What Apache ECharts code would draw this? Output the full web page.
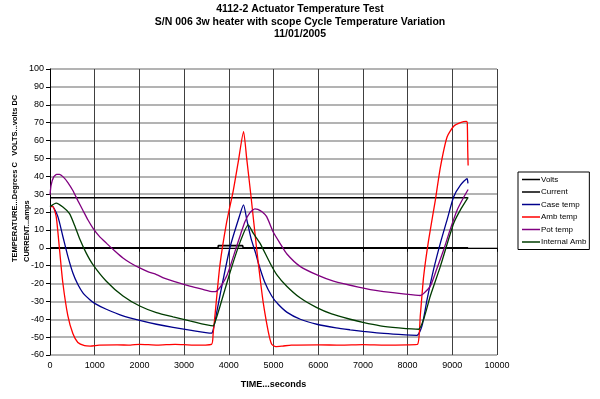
<!DOCTYPE html>
<html>
<head>
<meta charset="utf-8">
<script src="https://cdn.jsdelivr.net/npm/echarts@6/dist/echarts.min.js"></script>
<style>
	html, body { margin: 0; padding: 0; background: #fff; }
	#chart { width: 600px; height: 399px; }
</style>
</head>
<body>
<div id="chart"></div>
<script>
// series data, [seconds, value]
var volts = [[0, 28], [9354, 28]];
var current = [[0, 0], [3760, 0], [3765, 1.2], [4310, 1.2], [4320, 0], [8765, 0], [8770, 1], [8790, 1], [8795, 0], [9245, 0], [9250, 0.8], [9262, 0.8], [9265, 0], [9354, 0]];
var caseTemp = [
	[0, 23], [48, 23.3], [176, 17.4], [288, 6.3], [400, -4.8], [512, -14.1], [624, -20.6], [736, -25.2], [885, -28.9], [998, -31.1],
	[1260, -34.4], [1633, -38.1], [2007, -40.6], [2381, -42.8], [2753, -44.6], [3128, -46.1], [3614, -47.8], [3650, -46], [3700, -40], [3800, -27],
	[4025, 0], [4211, 15.5], [4330, 24], [4400, 16], [4500, 5], [4600, -3], [4660, -8.5], [4800, -19], [4960, -27], [5100, -31.5],
	[5296, -36], [5600, -40], [5969, -42.8], [6400, -44.8], [6715, -45.9], [7000, -46.8], [7388, -47.8], [7800, -48.5], [8210, -49], [8322, -43.7],
	[8435, -29], [8583, -12], [8733, 2.6], [8883, 15.6], [9031, 28.5], [9182, 35], [9330, 38.7], [9350, 36]
];
var ambTemp = [
	[0, 23], [63, 23], [139, 17.4], [213, -1], [287, -19.6], [399, -38], [511, -48], [623, -53], [773, -54.8], [900, -55],
	[1100, -54.5], [1500, -54.3], [1800, -54.5], [2000, -54], [2400, -54.5], [2800, -54], [3200, -54.5], [3614, -54], [3650, -48], [3690, -38],
	[3800, -10], [3950, 14], [4100, 32], [4211, 48], [4330, 65], [4400, 50], [4500, 28], [4620, 0], [4700, -17], [4772, -31],
	[4884, -47], [4960, -54], [5050, -55.3], [5200, -55], [5400, -54.5], [6000, -54.3], [6500, -54.5], [7000, -54.2], [7500, -54.5], [8000, -54.3],
	[8224, -54], [8284, -38], [8359, -16], [8471, 4.4], [8621, 26.7], [8733, 45], [8883, 62], [9031, 68], [9182, 70], [9316, 70.7],
	[9335, 70], [9345, 55], [9354, 46]
];
var potTemp = [
	[0, 29.5], [25, 35], [80, 39.5], [150, 41], [213, 41], [300, 39.5], [400, 36.5], [511, 32], [620, 26.5], [735, 21],
	[850, 15.5], [960, 11], [1100, 6.5], [1260, 2.6], [1450, -1.8], [1632, -5.7], [1800, -8.5], [2007, -11.3], [2200, -13.5], [2381, -15],
	[2553, -17], [2753, -18.7], [3128, -21.5], [3400, -23.2], [3650, -24.6], [3700, -24.6], [3760, -23.5], [3850, -20.5], [3950, -16], [4050, -9],
	[4174, 0.7], [4270, 8], [4361, 14.6], [4470, 19.5], [4585, 21.7], [4650, 21.5], [4750, 20], [4847, 17.4], [5000, 8.5], [5146, 2.5],
	[5300, -3.5], [5594, -10.4], [6000, -15.5], [6341, -18.7], [6900, -22], [7388, -24.3], [7900, -25.8], [8284, -26.7], [8350, -25.8], [8508, -21.5],
	[8650, -12], [8807, -1.1], [8950, 10], [9107, 21], [9250, 28], [9354, 32.6]
];
var internalAmb = [
	[0, 23], [138, 25], [288, 22.8], [437, 19.1], [549, 12.6], [661, 5.2], [811, -3], [960, -9.4], [1260, -18.7], [1633, -27],
	[2007, -32.6], [2381, -36.3], [2753, -38.7], [3128, -40.9], [3650, -43.7], [3700, -41], [3800, -33], [4025, -14], [4250, 3], [4435, 12.8],
	[4550, 8], [4697, 2.6], [4922, -8.5], [5072, -15], [5296, -21.5], [5594, -28], [5969, -33.5], [6300, -37], [6715, -40], [7000, -41.8],
	[7388, -43.7], [7800, -44.8], [8247, -45.6], [8359, -40], [8508, -27], [8733, -10.4], [9031, 13.7], [9200, 22], [9354, 28.2]
];

var seriesNames = ['Volts', 'Current', 'Case temp', 'Amb temp', 'Pot temp', 'Internal Amb'];
var seriesData = [volts, current, caseTemp, ambTemp, potTemp, internalAmb];
var seriesColors = ['#000000', '#000000', '#00008c', '#ff0000', '#800080', '#003c00'];

var font = 'Liberation Sans';
var chart = echarts.init(document.getElementById('chart'));

var series = [];
for (var i = 0; i < seriesNames.length; i++) {
	series.push({
		name: seriesNames[i],
		type: 'line',
		data: seriesData[i],
		symbol: 'none',
		smooth: i < 2 ? false : 0.2,
		color: seriesColors[i],
		lineStyle: { width: i < 2 ? 1.6 : 1.3, color: seriesColors[i] }
	});
}

var tickFmt = function(v) { return String(v); };

var option = {
	animation: false,
	backgroundColor: '#fff',
	title: {
		text: '4112-2 Actuator Temperature Test\nS/N 006 3w heater with scope Cycle Temperature Variation\n11/01/2005',
		left: 'center',
		top: -2,
		textStyle: { fontFamily: font, fontSize: 10.5, fontWeight: 'bold', color: '#000', lineHeight: 12.5 }
	},
	legend: {
		orient: 'vertical',
		left: 518,
		top: 172,
		padding: [2, 3, 2, 4],
		itemGap: 1.5,
		itemWidth: 18,
		itemHeight: 1.5,
		icon: 'rect',
		borderColor: '#000',
		borderWidth: 1,
		data: seriesNames,
		textStyle: { fontFamily: font, fontSize: 8, color: '#000', lineHeight: 11, padding: [0, 0, 0, -4] }
	},
	grid: { left: 50, right: 103, top: 69, bottom: 44 },
	xAxis: {
		type: 'value',
		min: 0,
		max: 10000,
		interval: 1000,
		name: 'TIME...seconds',
		nameLocation: 'middle',
		nameGap: 25,
		nameTextStyle: { fontFamily: font, fontSize: 9, fontWeight: 'bold', color: '#000' },
		axisLine: { lineStyle: { color: '#000', width: 1 } },
		axisTick: { show: true, inside: false, length: 4, lineStyle: { color: '#000' } },
		axisLabel: { fontFamily: font, fontSize: 9, color: '#000', margin: 6, formatter: tickFmt },
		splitLine: { show: true, lineStyle: { color: '#404040', width: 1 } }
	},
	yAxis: {
		type: 'value',
		min: -60,
		max: 100,
		interval: 10,
		axisLine: { show: true, lineStyle: { color: '#000', width: 1 } },
		axisTick: { show: true, inside: false, length: 4, lineStyle: { color: '#000' } },
		axisLabel: { fontFamily: font, fontSize: 9, color: '#000', margin: 6, formatter: tickFmt },
		splitLine: { show: true, lineStyle: { color: '#9a9a9a', width: 1.5 } }
	},
	graphic: [
		{
			type: 'text',
			x: 15,
			y: 262,
			rotation: Math.PI / 2,
			style: {
				text: 'TEMPERATURE...Degrees C   VOLTS...volts DC',
				fontFamily: font, fontSize: 7.5, fontWeight: 'bold', fill: '#000',
				textAlign: 'left', textVerticalAlign: 'middle'
			}
		},
		{
			type: 'text',
			x: 27,
			y: 262,
			rotation: Math.PI / 2,
			style: {
				text: 'CURRENT...amps',
				fontFamily: font, fontSize: 7.5, fontWeight: 'bold', fill: '#000',
				textAlign: 'left', textVerticalAlign: 'middle'
			}
		}
	],
	series: series
};
chart.setOption(option);
</script>
</body>
</html>
